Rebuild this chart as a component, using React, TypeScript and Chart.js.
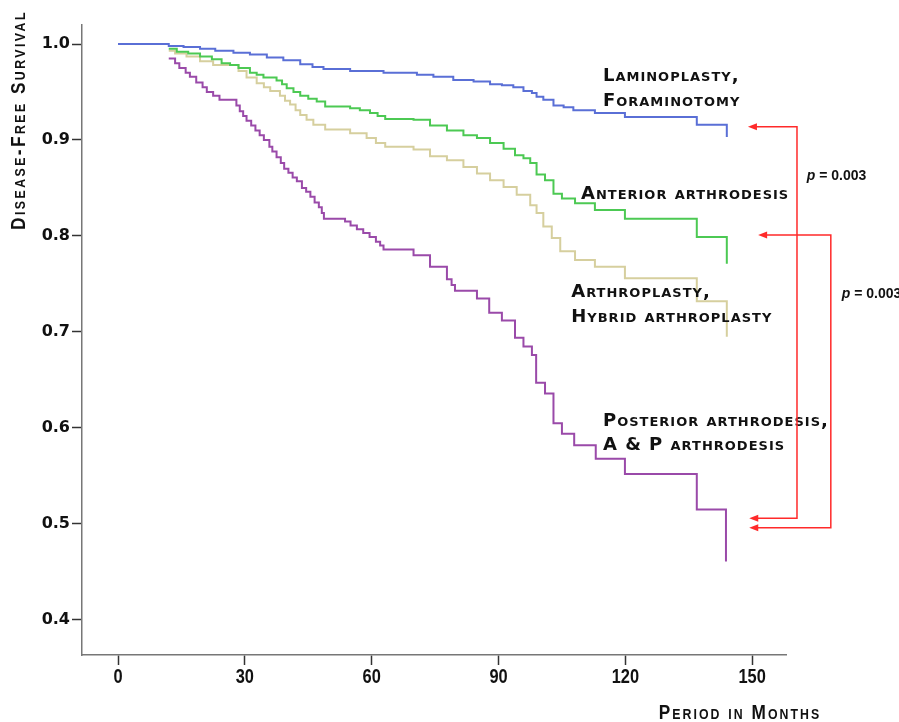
import React, { useEffect, useRef } from "react";
import { Chart, registerables } from "chart.js";

Chart.register(...registerables);

// ---------- data ----------
const xTicks = [0, 30, 60, 90, 120, 150];
const yTicks = [0.4, 0.5, 0.6, 0.7, 0.8, 0.9, 1.0];

const lamMonths = [0, 12, 15.5, 19.4, 23, 27.3, 31.2, 35.2, 39.1, 43.1, 46, 48.6, 54.9, 62.8, 70.7, 74.6, 79.3, 84.1, 88, 90.8, 93.5, 95.9, 97.9, 99, 100.6, 103, 105.4, 107.7, 112.8, 119.9, 136.9, 144];
const lamSurv = [1.0, 0.998, 0.997, 0.995, 0.993, 0.991, 0.989, 0.986, 0.983, 0.979, 0.976, 0.974, 0.972, 0.97, 0.968, 0.966, 0.9625, 0.961, 0.958, 0.957, 0.955, 0.951, 0.949, 0.945, 0.942, 0.936, 0.934, 0.931, 0.928, 0.924, 0.916, 0.903];

const antMonths = [12, 13.9, 16.6, 19.4, 22.2, 24.5, 26.5, 28.5, 31.2, 32.8, 34.4, 37.5, 38.8, 39.9, 41.5, 43.1, 45, 47, 49, 54.9, 57.2, 59.6, 61.4, 63.2, 69.9, 73.8, 77.8, 81.7, 84.9, 88, 91.2, 93.9, 95.9, 97.5, 99, 101, 103, 105, 108.1, 112.8, 119.9, 136.9, 144];
const antSurv = [0.995, 0.992, 0.99, 0.987, 0.984, 0.98, 0.978, 0.975, 0.97, 0.968, 0.965, 0.962, 0.958, 0.954, 0.95, 0.946, 0.943, 0.94, 0.935, 0.933, 0.931, 0.928, 0.925, 0.922, 0.921, 0.915, 0.91, 0.905, 0.902, 0.897, 0.891, 0.884, 0.881, 0.876, 0.864, 0.858, 0.844, 0.839, 0.834, 0.827, 0.818, 0.799, 0.771];

const artMonths = [12, 13.5, 16.2, 19.4, 22.5, 28.5, 30.4, 32.8, 34.5, 36, 38.3, 39.5, 40.7, 42, 43.1, 44.6, 46.2, 49, 54.9, 58.8, 61, 63.2, 69.9, 73.8, 77.8, 81.7, 84.9, 88, 91.2, 94.3, 97.5, 99, 100.6, 102.6, 104.6, 108.1, 112.8, 119.9, 136.9, 144];
const artSurv = [0.993, 0.99, 0.987, 0.982, 0.978, 0.972, 0.965, 0.959, 0.955, 0.951, 0.946, 0.941, 0.937, 0.931, 0.926, 0.921, 0.916, 0.911, 0.907, 0.902, 0.897, 0.893, 0.89, 0.883, 0.879, 0.872, 0.865, 0.858, 0.851, 0.843, 0.832, 0.824, 0.81, 0.798, 0.784, 0.775, 0.768, 0.756, 0.732, 0.695];

const posMonths = [12, 13.5, 14.5, 16, 17, 18.5, 20, 21, 22.5, 24, 28, 28.8, 29.6, 30.4, 31.5, 32.5, 33.5, 34.5, 35.8, 36.5, 37.5, 38.5, 39.3, 40.3, 41.3, 42.3, 43.5, 44.5, 45.5, 46.5, 47.5, 48.2, 48.7, 53.7, 55, 56.5, 58, 59.5, 61, 62, 62.8, 69.9, 73.8, 77.8, 78.9, 79.7, 84.9, 87.8, 90.8, 93.9, 95.9, 97.9, 98.9, 101, 103, 105, 107.9, 113, 119.9, 136.9, 143.8];
const posSurv = [0.985, 0.98, 0.975, 0.97, 0.966, 0.96, 0.955, 0.95, 0.946, 0.942, 0.936, 0.93, 0.925, 0.92, 0.915, 0.91, 0.905, 0.9, 0.893, 0.888, 0.882, 0.876, 0.87, 0.866, 0.861, 0.857, 0.85, 0.846, 0.841, 0.835, 0.83, 0.824, 0.818, 0.815, 0.811, 0.807, 0.803, 0.799, 0.794, 0.79, 0.786, 0.78, 0.768, 0.755, 0.749, 0.743, 0.735, 0.72, 0.712, 0.694, 0.685, 0.676, 0.647, 0.636, 0.605, 0.594, 0.582, 0.568, 0.552, 0.515, 0.461];

const seriesNames = [
  "Laminoplasty, Foraminotomy",
  "Anterior arthrodesis",
  "Arthroplasty, Hybrid arthroplasty",
  "Posterior arthrodesis, A & P arthrodesis",
];
const seriesColors = ["#5a6fd6", "#4cc953", "#d6cf9e", "#9a4aa9"];

// curve labels (anchored in data units: month, survival)
const curveLabels = [
  { text: "Laminoplasty,", m: 114.7, v: 0.9667 },
  { text: "Foraminotomy", m: 114.7, v: 0.9406 },
  { text: "Anterior arthrodesis", m: 109.5, v: 0.8438 },
  { text: "Arthroplasty,", m: 107.2, v: 0.7417 },
  { text: "Hybrid arthroplasty", m: 107.2, v: 0.7151 },
  { text: "Posterior arthrodesis,", m: 114.7, v: 0.6068 },
  { text: "A & P arthrodesis", m: 114.7, v: 0.5823 },
];

// comparison brackets
const brackets = [
  { top: 0.9139, bottom: 0.5059, bx: 160.6, tipTop: 149.0, tipBottom: 149.3, p: "0.003", pm: 162.9, pv: 0.8625 },
  { top: 0.801, bottom: 0.4961, bx: 168.6, tipTop: 151.4, tipBottom: 149.3, p: "0.003", pm: 171.2, pv: 0.7396 },
];

const yTitle = "Disease-Free Survival";
const xTitle = "Period in Months";

const X_MIN = -8.52;
const X_MAX = 158.0;
const Y_MIN = 0.3635;
const Y_MAX = 1.0198;

const toPoints = (xs: number[], ys: number[]) => xs.map((x, i) => ({ x, y: ys[i] }));

const NARROW = 0.82;

const annotPlugin = {
  id: "annot",
  afterDraw(chart: any) {
    const ctx: CanvasRenderingContext2D = chart.ctx;
    const xs = chart.scales.x;
    const ys = chart.scales.y;
    ctx.save();

    // x tick labels (condensed bold)
    ctx.fillStyle = "#111";
    ctx.textAlign = "center";
    ctx.textBaseline = "alphabetic";
    ctx.font = 'bold 20px "Liberation Sans", Arial, sans-serif';
    for (const t of xTicks) {
      const px = xs.getPixelForValue(t);
      ctx.save();
      ctx.translate(px, 683);
      ctx.scale(NARROW, 1);
      ctx.fillText(String(t), 0, 0);
      ctx.restore();
    }

    // curve labels (small caps)
    ctx.textBaseline = "middle";
    ctx.textAlign = "left";
    ctx.font = 'small-caps bold 18px "DejaVu Sans", sans-serif';
    (ctx as any).fontVariantCaps = "small-caps";
    (ctx as any).letterSpacing = "1px";
    for (const l of curveLabels) {
      ctx.fillText(l.text, xs.getPixelForValue(l.m), ys.getPixelForValue(l.v));
    }

    // axis titles (condensed small caps)
    ctx.font = 'small-caps bold 21px "Liberation Sans", Arial, sans-serif';
    (ctx as any).fontVariantCaps = "small-caps";
    (ctx as any).letterSpacing = "3px";
    ctx.textBaseline = "alphabetic";
    ctx.textAlign = "center";
    ctx.save();
    ctx.translate(25, 120);
    ctx.rotate(-Math.PI / 2);
    ctx.scale(NARROW, 1);
    ctx.fillText(yTitle, 0, 0);
    ctx.restore();
    (ctx as any).letterSpacing = "2.5px";
    ctx.save();
    ctx.translate(740, 719);
    ctx.scale(NARROW, 1);
    ctx.fillText(xTitle, 0, 0);
    ctx.restore();
    (ctx as any).letterSpacing = "0px";
    (ctx as any).fontVariantCaps = "normal";

    // brackets
    ctx.strokeStyle = "#ff2a2a";
    ctx.lineWidth = 1.5;
    const arrowHead = (x: number, y: number) => {
      ctx.fillStyle = "#ff2a2a";
      ctx.beginPath();
      ctx.moveTo(x, y);
      ctx.lineTo(x + 9, y - 3.5);
      ctx.lineTo(x + 9, y + 3.5);
      ctx.closePath();
      ctx.fill();
    };
    for (const b of brackets) {
      const bx = xs.getPixelForValue(b.bx);
      const yt = ys.getPixelForValue(b.top);
      const yb = ys.getPixelForValue(b.bottom);
      const tt = xs.getPixelForValue(b.tipTop);
      const tb = xs.getPixelForValue(b.tipBottom);
      ctx.beginPath();
      ctx.moveTo(tt + 8, yt);
      ctx.lineTo(bx, yt);
      ctx.lineTo(bx, yb);
      ctx.lineTo(tb + 8, yb);
      ctx.stroke();
      arrowHead(tt, yt);
      arrowHead(tb, yb);

      // p label
      ctx.fillStyle = "#111";
      ctx.textAlign = "left";
      ctx.textBaseline = "middle";
      const px = xs.getPixelForValue(b.pm);
      const py = ys.getPixelForValue(b.pv);
      ctx.font = 'italic bold 14px "Liberation Sans", Arial, sans-serif';
      ctx.fillText("p", px, py);
      const w = ctx.measureText("p").width;
      ctx.font = 'bold 14px "Liberation Sans", Arial, sans-serif';
      ctx.fillText(" = " + b.p, px + w, py);
    }
    ctx.restore();
  },
};

export default function App() {
  const ref = useRef<HTMLCanvasElement | null>(null);

  useEffect(() => {
    document.body.style.margin = "0";
    if (!ref.current) return;
    const allData = [
      toPoints(lamMonths, lamSurv),
      toPoints(antMonths, antSurv),
      toPoints(artMonths, artSurv),
      toPoints(posMonths, posSurv),
    ];
    const chart = new Chart(ref.current, {
      type: "line",
      data: {
        datasets: allData.map((d, i) => ({
          label: seriesNames[i],
          data: d,
          borderColor: seriesColors[i],
          backgroundColor: seriesColors[i],
          borderWidth: 2,
          pointRadius: 0,
          stepped: "before" as const,
          fill: false,
        })),
      },
      options: {
        animation: false,
        responsive: false,
        maintainAspectRatio: false,
        layout: { padding: { top: 25, right: 113, left: 0, bottom: 0 } },
        plugins: { legend: { display: false }, tooltip: { enabled: false } },
        scales: {
          x: {
            type: "linear",
            min: X_MIN,
            max: X_MAX,
            afterBuildTicks: (s: any) => {
              s.ticks = xTicks.map((v) => ({ value: v }));
            },
            afterFit: (s: any) => {
              s.height = 67;
            },
            grid: {
              display: true,
              drawOnChartArea: false,
              drawTicks: true,
              tickLength: 10,
              tickColor: "#333",
              tickWidth: 1.5,
            },
            border: { display: true, color: "#777", width: 1.5 },
            ticks: { display: false },
          },
          y: {
            type: "linear",
            min: Y_MIN,
            max: Y_MAX,
            afterBuildTicks: (s: any) => {
              s.ticks = yTicks.map((v) => ({ value: v }));
            },
            afterFit: (s: any) => {
              s.width = 82;
            },
            grid: {
              display: true,
              drawOnChartArea: false,
              drawTicks: true,
              tickLength: 10,
              tickColor: "#333",
              tickWidth: 1.5,
            },
            border: { display: true, color: "#777", width: 1.5 },
            ticks: {
              color: "#111",
              padding: 2,
              font: { family: '"DejaVu Sans", sans-serif', size: 16, weight: "bold" },
              callback: (v: any) => Number(v).toFixed(1),
            },
          },
        },
      },
      plugins: [annotPlugin],
    } as any);
    return () => chart.destroy();
  }, []);

  return (
    <div style={{ position: "absolute", left: 0, top: 0, width: 899, height: 722, background: "#fff" }}>
      <canvas ref={ref} width={899} height={722} style={{ display: "block", width: 899, height: 722 }} />
    </div>
  );
}
